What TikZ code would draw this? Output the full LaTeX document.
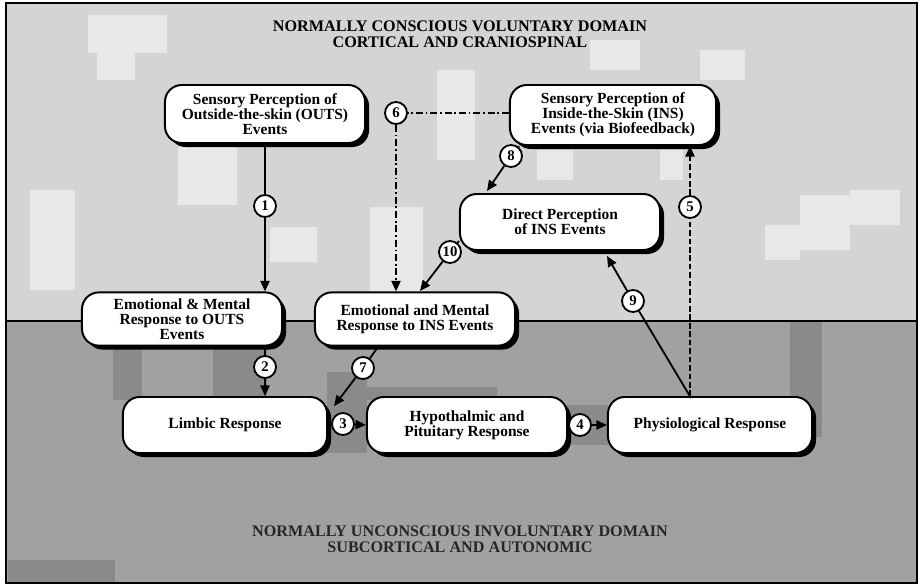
\documentclass[tikz,border=0pt]{standalone}
\usepackage{fontspec}
\setmainfont{Liberation Serif}
\usetikzlibrary{arrows.meta,shadows}

\definecolor{upperbg}{gray}{0.83}
\definecolor{upperpatch}{gray}{0.91}
\definecolor{lowerbg}{gray}{0.63}
\definecolor{lowerpatch}{gray}{0.54}

\tikzset{
  box/.style={draw, line width=1.4pt, fill=white, rounded corners=0.42cm,
    minimum width=5cm, minimum height=1.4cm, align=center, inner sep=2pt,
    font=\bfseries\fontsize{11}{10.8}\selectfont,
    drop shadow={shadow xshift=0.1cm, shadow yshift=-0.1cm, fill=black, opacity=1}},
  num/.style={circle, draw, line width=1.3pt, fill=white, inner sep=0pt,
    minimum size=0.55cm, font=\bfseries\fontsize{10.5}{10.5}\selectfont},
  conn/.style={line width=1.3pt},
  link/.style={conn, -{Triangle[length=7.5pt,width=6.5pt]}},
  dashline/.style={dash pattern=on 4pt off 2pt},
  dotdash/.style={dash pattern=on 5pt off 2pt on 1.2pt off 2pt},
  domaintitle/.style={align=center, font=\bfseries\fontsize{11.5}{11}\selectfont},
}

\begin{document}
\begin{tikzpicture}[x=0.025cm, y=-0.025cm]

\useasboundingbox (0,0) rectangle (920,586);

% background: two domains
\fill[upperbg] (6,3) rectangle (917,321);
\fill[lowerbg] (6,321) rectangle (917,583);
\foreach \a/\b/\c/\d in {88/15/167/53, 97/53/135/80, 30/190/75/290, 178/147/237/205,
  270/227/317/262, 370/207/423/293, 437/70/475/160, 537/150/573/180, 660/150/683/180,
  765/225/800/260, 800/195/850/250, 850/190/900/225, 700/50/745/80, 590/40/640/70}
  \fill[upperpatch] (\a,\b) rectangle (\c,\d);
\foreach \a/\b/\c/\d in {8/560/115/583, 113/322/142/400, 213/345/267/396,
  327/372/367/453, 367/387/497/400, 565/405/608/445, 790/322/822/437}
  \fill[lowerpatch] (\a,\b) rectangle (\c,\d);
\draw[line width=2pt] (6,321) -- (917,321);
\draw[line width=1.5pt] (6,3) rectangle (917,583);

\node[domaintitle] (conscious) at (460,34) {NORMALLY CONSCIOUS VOLUNTARY DOMAIN\\CORTICAL AND CRANIOSPINAL};
\node[domaintitle, text=black!85] (unconscious) at (460,539) {NORMALLY UNCONSCIOUS INVOLUNTARY DOMAIN\\SUBCORTICAL AND AUTONOMIC};

% boxes
\node[box, minimum height=1.45cm] (outs) at (265,114) {Sensory Perception of\\Outside-the-skin (OUTS)\\Events};
\node[box, minimum width=5.15cm, minimum height=1.5cm] (ins) at (613,115) {Sensory Perception of\\Inside-the-Skin (INS)\\Events (via Biofeedback)};
\node[box] (direct) at (560,222) {Direct Perception\\of INS Events};
\node[box, minimum height=1.33cm] (emoOuts) at (182,319) {Emotional \& Mental\\Response to OUTS\\Events};
\node[box, minimum height=1.33cm] (emoIns) at (415,319) {Emotional and Mental\\Response to INS Events};
\node[box, minimum width=5.1cm] (limbic) at (225,425) {Limbic Response};
\node[box] (hypo) at (467,425) {Hypothalmic and\\Pituitary Response};
\node[box, minimum width=5.1cm] (phys) at (710,425) {Physiological Response};

% numbered markers
\node[num] (n1) at (265,206) {1};
\node[num] (n2) at (265,367) {2};
\node[num] (n3) at (343,424) {3};
\node[num] (n4) at (580,425) {4};
\node[num] (n5) at (690,207) {5};
\node[num] (n6) at (396,113) {6};
\node[num] (n7) at (363,368) {7};
\node[num] (n8) at (511,156) {8};
\node[num] (n9) at (633,301) {9};
\node[num] (n10) at (450,252) {10};

\coordinate (s7) at (378,347);
\coordinate (t7) at (334,406);
\coordinate (s8) at (519,146);
\coordinate (t8) at (487,191);
\coordinate (s9) at (691,398);
\coordinate (t9) at (607,256);
\coordinate (s10) at (459,241);
\coordinate (t10) at (420,291);

% connectors
\draw[conn] (outs.south) -- (n1);
\draw[link] (n1) -- (n1 |- emoOuts.north);
\draw[conn] (n2 |- emoOuts.south) -- (n2);
\draw[link] (n2) -- (n2 |- limbic.north);
\draw[conn] (limbic.east) -- (n3);
\draw[link] (n3) -- (hypo.west);
\draw[conn] (hypo.east) -- (n4);
\draw[link] (n4) -- (phys.west);
\draw[conn, dashline] (n5 |- phys.north) -- (n5);
\draw[link, dashline] (n5) -- (n5 |- ins.south);
\draw[conn, dotdash] (ins.west |- n6) -- (n6);
\draw[link, dotdash] (n6) -- (n6 |- emoIns.north);
\draw[conn] (s7) -- (n7);
\draw[link] (n7) -- (t7);
\draw[conn] (s8) -- (n8);
\draw[link] (n8) -- (t8);
\draw[conn] (s9) -- (n9);
\draw[link] (n9) -- (t9);
\draw[conn] (s10) -- (n10);
\draw[link] (n10) -- (t10);

\end{tikzpicture}
\end{document}
